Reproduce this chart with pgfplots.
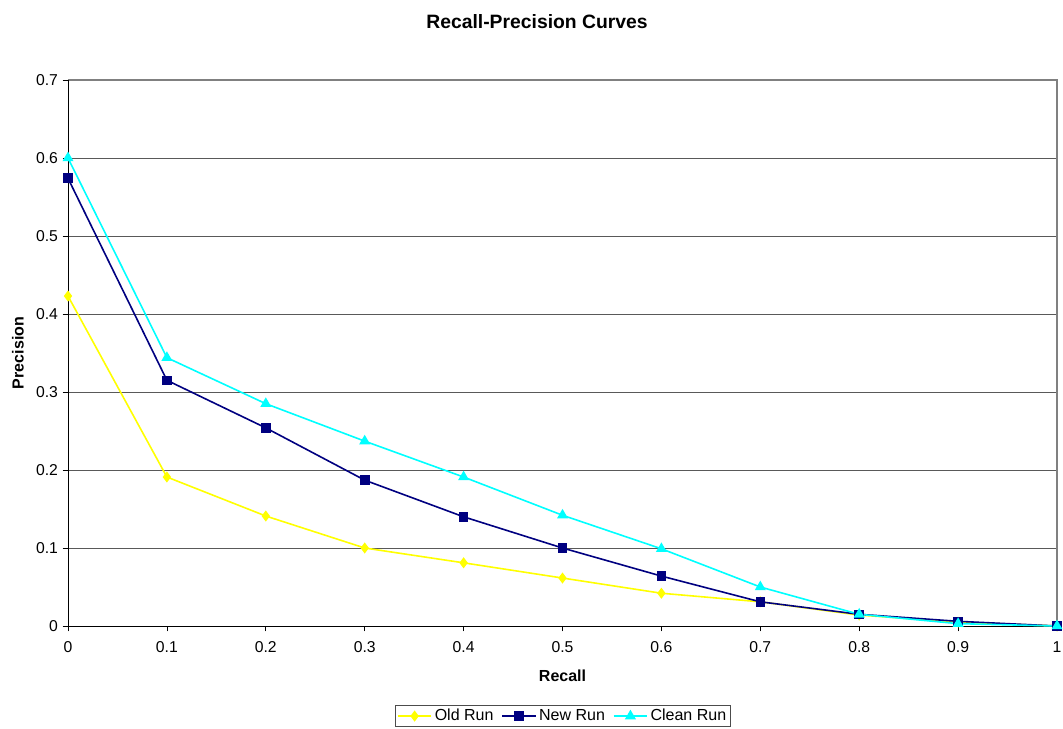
\documentclass[border=0pt]{standalone}
\usepackage{pgfplots}
\pgfplotsset{compat=1.18}
\usepackage{fontspec}
\setmainfont{Liberation Sans}
\definecolor{oldc}{HTML}{FFFF00}
\definecolor{newc}{HTML}{000080}
\definecolor{cleanc}{HTML}{00FFFF}
\begin{document}
\begin{tikzpicture}
\useasboundingbox (-51pt,-76.5pt) rectangle (746.25pt,469.5pt);
\begin{axis}[
  at={(0,0)}, anchor=south west,
  scale only axis, width=741.75pt, height=409.5pt,
  xmin=0, xmax=1, ymin=0, ymax=0.7,
  xtick={0,0.1,...,1.01}, ytick={0,0.1,...,0.71},
  xticklabels={0,0.1,0.2,0.3,0.4,0.5,0.6,0.7,0.8,0.9,1},
  yticklabels={0,0.1,0.2,0.3,0.4,0.5,0.6,0.7},
  tick align=outside, tick pos=left,
  major tick length=4pt,
  tick style={black, line width=0.6pt},
  ymajorgrids, grid style={black!65, line width=0.6pt},
  axis line style={draw=none},
  tick label style={font=\fontsize{11.8}{13}\selectfont},
  xticklabel style={yshift=-4pt},
  /pgf/number format/assume math mode=true,
  legend columns=3,
  legend style={at={(0.5005,-0.165)}, anchor=center, draw=black!70, line width=0.6pt,
    font=\fontsize{12}{13}\selectfont, inner sep=1pt,
    /tikz/every even column/.append style={column sep=4pt}},
  legend image code/.code={\draw[mark repeat=2,mark phase=2] plot coordinates {(0cm,0cm)(0.44cm,0cm)(0.88cm,0cm)};},
  clip=false,
]
% plot area border: top & right grey, left & bottom black
\draw[black!50, line width=0.9pt] (rel axis cs:0,1) -- (rel axis cs:1,1) -- (rel axis cs:1,0);
\draw[black, line width=0.7pt] (rel axis cs:0,1) -- (rel axis cs:0,0) -- (rel axis cs:1,0);
\addplot[color=oldc, line width=1.2pt, mark=diamond*, mark size=3.2pt, mark options={fill=oldc, draw=oldc}]
  coordinates {(0,0.423)(0.1,0.191)(0.2,0.141)(0.3,0.100)(0.4,0.081)(0.5,0.0615)(0.6,0.042)(0.7,0.031)(0.8,0.014)(0.9,0.005)(1,0)};
\addlegendentry{Old Run}
\addplot[color=newc, line width=1.2pt, mark=square*, mark size=3pt, mark options={fill=newc, draw=newc}]
  coordinates {(0,0.574)(0.1,0.315)(0.2,0.254)(0.3,0.187)(0.4,0.140)(0.5,0.100)(0.6,0.064)(0.7,0.031)(0.8,0.015)(0.9,0.006)(1,0)};
\addlegendentry{New Run}
\addplot[color=cleanc, line width=1.2pt, mark=triangle*, mark size=3.6pt, mark options={fill=cleanc, draw=cleanc}]
  coordinates {(0,0.600)(0.1,0.344)(0.2,0.285)(0.3,0.237)(0.4,0.191)(0.5,0.142)(0.6,0.099)(0.7,0.050)(0.8,0.015)(0.9,0.003)(1,0)};
\addlegendentry{Clean Run}
\end{axis}
\node[font=\fontsize{14.5}{16}\bfseries] at (351.75pt,453pt) {Recall-Precision Curves};
\node[font=\fontsize{12}{13}\bfseries] at (370.9pt,-37.5pt) {Recall};
\node[font=\fontsize{12}{13}\bfseries, rotate=90] at (-37.5pt,204.75pt) {Precision};
\end{tikzpicture}
\end{document}
